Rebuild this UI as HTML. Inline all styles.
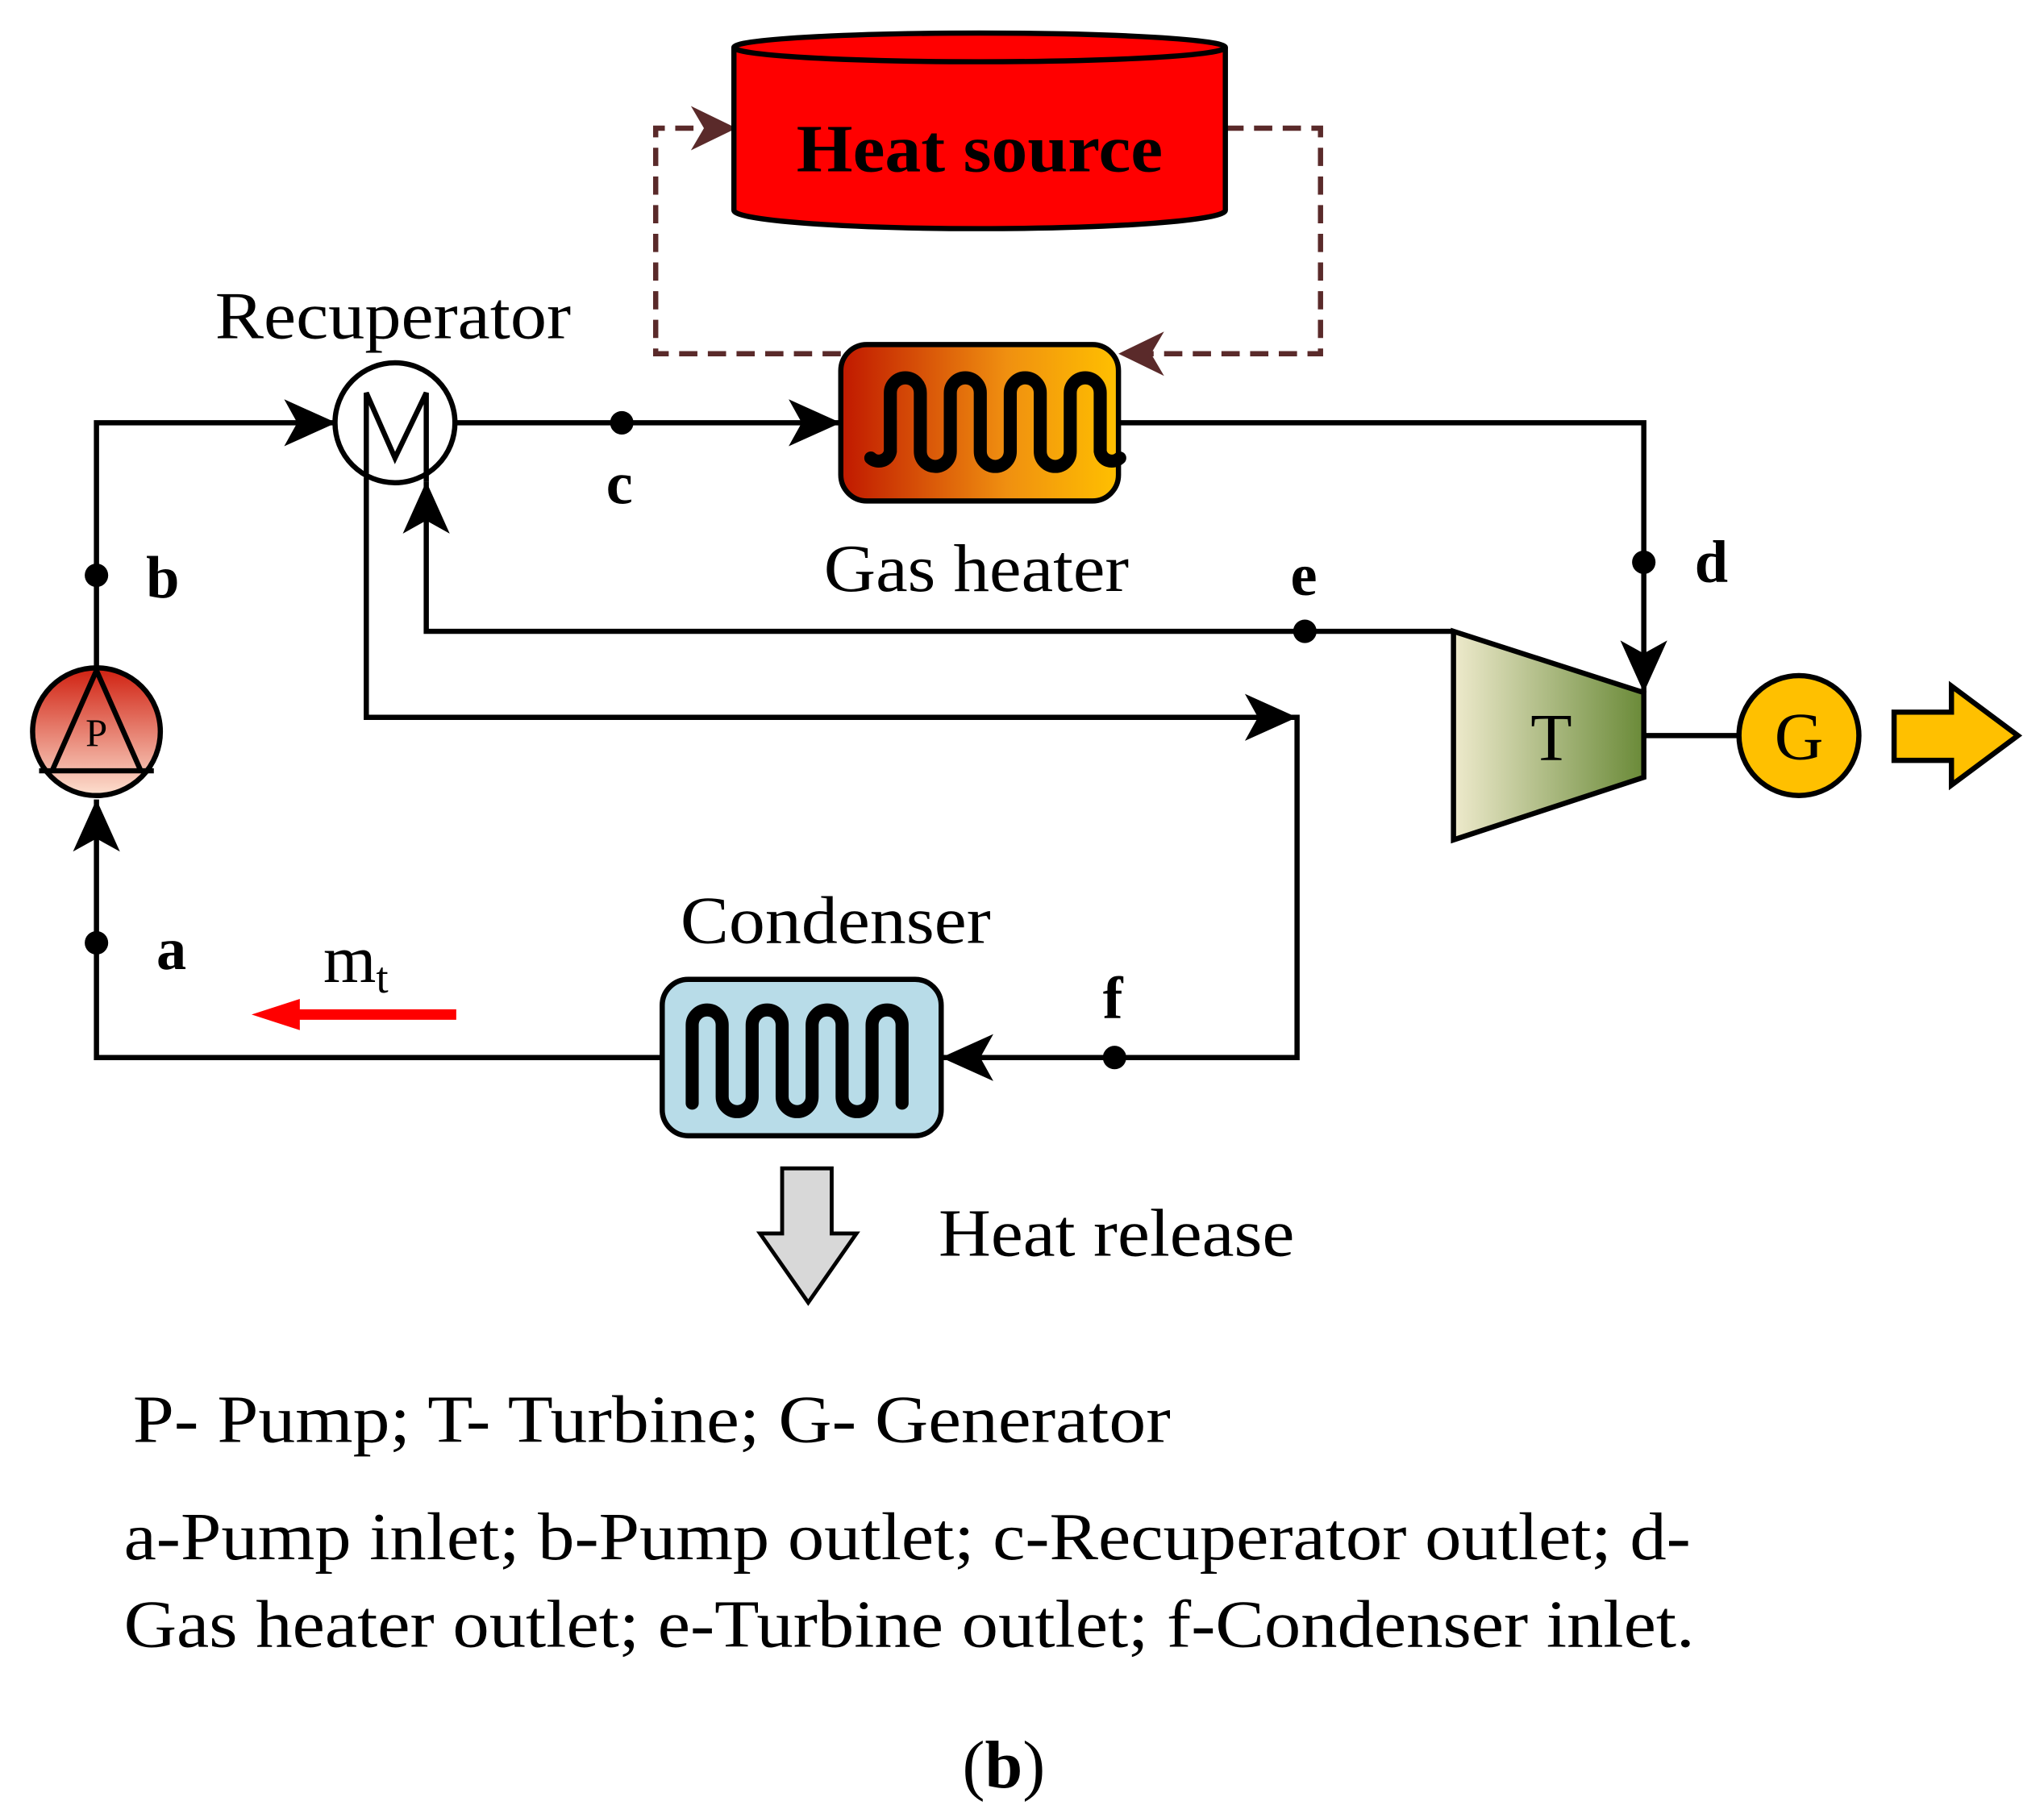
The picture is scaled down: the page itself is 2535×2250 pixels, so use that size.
<!DOCTYPE html>
<html><head><meta charset="utf-8"><style>
html,body{margin:0;padding:0;background:#fff;}
svg{display:block;}
text{font-family:"Liberation Serif",serif;}
</style></head><body>
<svg width="2535" height="2250" viewBox="0 0 1568 1389" xmlns="http://www.w3.org/2000/svg">
<defs>
<linearGradient id="gh" x1="0" x2="1" y1="0" y2="0"><stop offset="0" stop-color="#c01800"/><stop offset="0.6" stop-color="#f09010"/><stop offset="1" stop-color="#ffc000"/></linearGradient>
<linearGradient id="tg" x1="0" x2="1" y1="0" y2="0"><stop offset="0" stop-color="#eeeacc"/><stop offset="1" stop-color="#6a8a38"/></linearGradient>
<linearGradient id="pg" x1="0" x2="0" y1="0" y2="1"><stop offset="0" stop-color="#d02010"/><stop offset="1" stop-color="#fde0d0"/></linearGradient>
</defs>
<g fill="none" stroke="#000" stroke-width="4">
<g stroke="#5a2a2a" stroke-width="4" stroke-dasharray="14,8">
<polyline points="940,97 1013,97 1013,270 880,270"/>
<polyline points="645,270 503,270 503,97 540,97"/>
</g>
<path d="M530,80 L565,97 L530,114 L540,97 Z" fill="#5a2a2a" stroke="none"/>
<path d="M893,253 L858,270 L893,287 L883,270 Z" fill="#5a2a2a" stroke="none"/>
<path d="M563,35 V160 A188,14 0 0 0 940,160 V35" fill="#ff0000"/>
<ellipse cx="751.5" cy="35" rx="188.5" ry="11" fill="#ff0000"/>
<polyline points="74,510 74,323 258,323"/>
<path d="M218,305 L258,323 L218,341 L228,323 Z" fill="#000" stroke="none"/>
<line x1="350" y1="323" x2="645" y2="323"/>
<path d="M605,305 L645,323 L605,341 L615,323 Z" fill="#000" stroke="none"/>
<polyline points="858,323 1261,323 1261,530"/>
<path d="M1243,490 L1261,530 L1279,490 L1261,500 Z" fill="#000" stroke="none"/>
<polyline points="1115,483 327,483 327,368"/>
<path d="M309,408 L327,368 L345,408 L327,398 Z" fill="#000" stroke="none"/>
<polyline points="281,365 281,549 995,549 995,810 722,810"/>
<path d="M955,531 L995,549 L955,567 L965,549 Z" fill="#000" stroke="none"/>
<path d="M762,792 L722,810 L762,828 L752,810 Z" fill="#000" stroke="none"/>
<polyline points="508,810 74,810 74,612"/>
<path d="M56,652 L74,612 L92,652 L74,642 Z" fill="#000" stroke="none"/>
<line x1="1261" y1="563" x2="1334" y2="563"/>
<circle cx="303" cy="323" r="46" fill="#fff"/>
<polyline points="281,365 281,300 303,350 327,300 327,368"/>
<rect x="645" y="263" width="213" height="120" rx="20" fill="url(#gh)"/>
<path d="M668,350 a9,9 0 0 0 15,-5 V300 a11.5,11.5 0 0 1 23,0 V345 a11.5,11.5 0 0 0 23,0 V300 a11.5,11.5 0 0 1 23,0 V345 a11.5,11.5 0 0 0 23,0 V300 a11.5,11.5 0 0 1 23,0 V345 a11.5,11.5 0 0 0 23,0 V300 a11.5,11.5 0 0 1 23,0 V345 a9,9 0 0 0 15,5" stroke-width="10" stroke-linecap="round"/>
<rect x="508" y="750" width="214" height="120" rx="20" fill="#b8dce8"/>
<path d="M531,845 V785 a11.5,11.5 0 0 1 23,0 V840 a11.5,11.5 0 0 0 23,0 V785 a11.5,11.5 0 0 1 23,0 V840 a11.5,11.5 0 0 0 23,0 V785 a11.5,11.5 0 0 1 23,0 V840 a11.5,11.5 0 0 0 23,0 V785 a11.5,11.5 0 0 1 23,0 V845" stroke-width="10" stroke-linecap="round"/>
<polygon points="1115,483 1261,530 1261,595 1115,643" fill="url(#tg)"/>
<circle cx="1380" cy="563" r="46" fill="#ffc000"/>
<polygon points="1453,545 1497,545 1497,525 1548,563 1497,601 1497,582 1453,582" fill="#ffc000"/>
<circle cx="74" cy="560" r="49" fill="url(#pg)"/>
<polyline points="40,590 74,513 108,590" />
<line x1="30" y1="590" x2="118" y2="590"/>
<polygon points="600,895 638,895 638,945 657,945 620,998 583,945 600,945" fill="#d8d8d8" stroke-width="3"/>
</g>
<line x1="350" y1="777" x2="215" y2="777" stroke="#ff0000" stroke-width="8"/>
<path d="M230,765 L193,777 L230,789 Z" fill="#ff0000"/>
<g fill="#000">
<circle cx="477" cy="323" r="9"/><circle cx="1261" cy="430" r="9"/><circle cx="1001" cy="483" r="9"/>
<circle cx="855" cy="810" r="9"/><circle cx="74" cy="722" r="9"/><circle cx="74" cy="440" r="9"/>
</g>
<g fill="#000" font-size="52">
<text x="611" y="130" font-weight="bold" font-size="52" textLength="281" lengthAdjust="spacingAndGlyphs">Heat source</text>
<text x="165" y="258" textLength="273" lengthAdjust="spacingAndGlyphs">Recuperator</text>
<text x="632" y="452" textLength="234" lengthAdjust="spacingAndGlyphs">Gas heater</text>
<text x="522" y="722" textLength="238" lengthAdjust="spacingAndGlyphs">Condenser</text>
<text x="720" y="962" textLength="273" lengthAdjust="spacingAndGlyphs">Heat release</text>
<text x="1190" y="582" text-anchor="middle">T</text>
<text x="1380" y="581" text-anchor="middle">G</text>
<text x="74" y="571" text-anchor="middle" font-size="30">P</text>
<text x="248" y="752">m<tspan font-size="34" dy="8">t</tspan></text>
<g font-weight="bold" font-size="46">
<text x="465" y="385">c</text><text x="1300" y="445">d</text><text x="990" y="455">e</text>
<text x="846" y="780">f</text><text x="120" y="742">a</text><text x="112" y="457">b</text>
</g>
<text x="102" y="1105" textLength="796" lengthAdjust="spacingAndGlyphs">P- Pump; T- Turbine; G- Generator</text>
<text x="95" y="1195" textLength="1202" lengthAdjust="spacingAndGlyphs">a-Pump inlet; b-Pump outlet; c-Recuperator outlet; d-</text>
<text x="95" y="1262" textLength="1205" lengthAdjust="spacingAndGlyphs">Gas heater outlet; e-Turbine outlet; f-Condenser inlet.</text>
<text x="770" y="1370" text-anchor="middle">(<tspan font-weight="bold">b</tspan>)</text>
</g>
</svg>
</body></html>
